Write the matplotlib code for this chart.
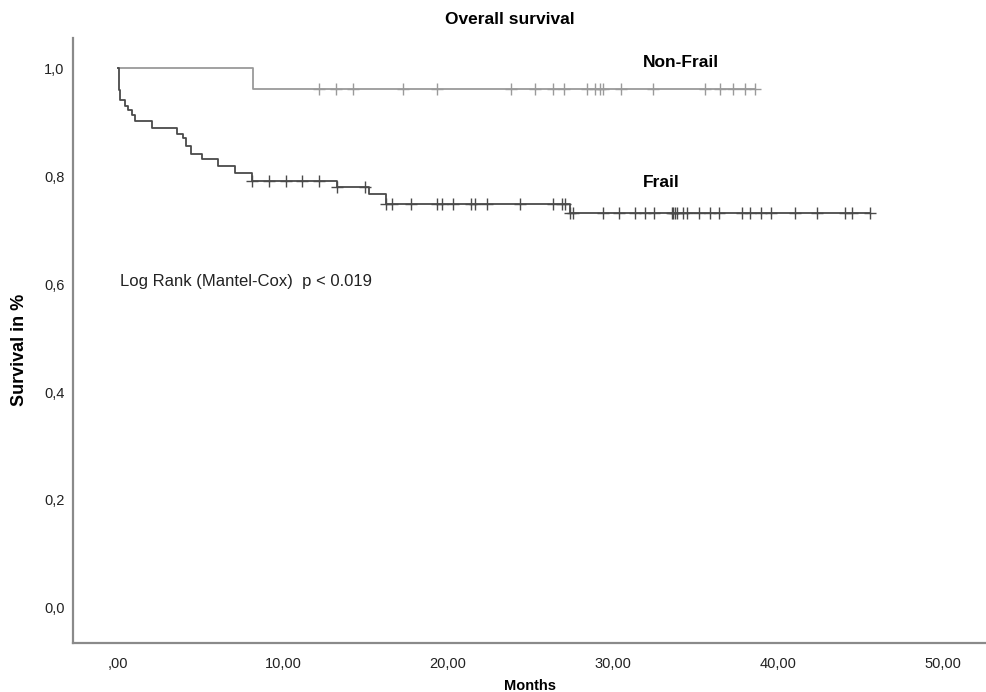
import numpy as np
import matplotlib
matplotlib.use("Agg")
import matplotlib.pyplot as plt

# ---- data ----
frail_event_times = [0.03, 0.08, 0.12, 0.42, 0.62, 0.83, 1.03, 2.08, 3.56, 3.96, 4.12, 4.42,
                     5.07, 6.08, 7.09, 8.10, 13.25, 15.23, 16.24, 27.39]
frail_surv = [0.978, 0.959, 0.941, 0.930, 0.922, 0.913, 0.902, 0.890, 0.879, 0.870, 0.856, 0.841,
              0.831, 0.819, 0.805, 0.791, 0.780, 0.767, 0.749, 0.731]
frail_censor = [8.1, 9.15, 10.16, 11.17, 12.18, 13.25, 14.97, 16.24, 16.6, 17.74, 19.35, 19.62,
                20.28, 21.37, 21.64, 22.35, 24.36, 26.38, 26.89, 27.09, 27.39, 27.55, 29.41,
                30.38, 31.33, 31.94, 32.48, 33.56, 33.66, 33.76, 33.86, 34.26, 34.46, 35.23,
                35.88, 36.44, 37.8, 38.3, 39.0, 39.56, 41.03, 42.38, 44.06, 44.47, 45.6]

nonfrail_event_times = [8.16]
nonfrail_surv = [0.961]
nonfrail_censor = [12.2, 13.21, 14.22, 17.29, 19.31, 23.8, 25.27, 26.38, 27.03, 28.4, 28.9,
                   29.2, 29.4, 30.5, 32.4, 35.6, 36.5, 37.3, 38.0, 38.6]

x_ticks = [0, 10, 20, 30, 40, 50]
x_ticklabels = [",00", "10,00", "20,00", "30,00", "40,00", "50,00"]
y_ticks = [0.0, 0.2, 0.4, 0.6, 0.8, 1.0]
y_ticklabels = ["0,0", "0,2", "0,4", "0,6", "0,8", "1,0"]

title = "Overall survival"
xlabel = "Months"
ylabel = "Survival in %"
annotation = "Log Rank (Mantel-Cox)  p < 0.019"

FONT = ["Liberation Sans", "DejaVu Sans"]


def km_curve(event_t, surv, censor_t):
    t = np.concatenate([[0.0], event_t, [max(censor_t)]])
    s = np.concatenate([[1.0], surv, [surv[-1]]])
    ct = np.asarray(censor_t)
    idx = np.searchsorted(np.asarray(event_t), ct, side="right")
    cs = np.concatenate([[1.0], surv])[idx]
    return t, s, ct, cs


fig = plt.figure(figsize=(9.87, 6.92), dpi=100)
ax = fig.add_axes([73 / 987, 49 / 692, 914 / 987, (643 - 38) / 692])

for ev, sv, ce, col in [(nonfrail_event_times, nonfrail_surv, nonfrail_censor, "#9a9a9a"),
                        (frail_event_times, frail_surv, frail_censor, "#4a4a4a")]:
    t, s, ct, cs = km_curve(ev, sv, ce)
    ax.step(t, s, where="post", color=col, lw=1.3)
    ax.plot(ct, cs, ls="none", marker="+", ms=9, mew=1.0, color=col)

ax.set_xlim(-2.73, 52.67)
ax.set_ylim(-0.065, 1.056)

for side in ["top", "right"]:
    ax.spines[side].set_visible(False)
for side in ["left", "bottom"]:
    ax.spines[side].set_color("#8a8a8a")
    ax.spines[side].set_linewidth(1.6)

ax.set_xticks(x_ticks)
ax.set_xticklabels(x_ticklabels, fontfamily=FONT, fontsize=10.5, color="#222222")
ax.set_yticks(y_ticks)
ax.set_yticklabels(y_ticklabels, fontfamily=FONT, fontsize=10.5, color="#222222")
ax.tick_params(axis="both", length=0)
ax.tick_params(axis="x", pad=10)
ax.tick_params(axis="y", pad=6)

ax.set_xlabel(xlabel, fontfamily=FONT, fontsize=10.5, fontweight="bold", labelpad=6)

fig.text(20 / 987, 1 - 350 / 692, ylabel, ha="center", va="center", rotation=90,
         fontfamily=FONT, fontsize=13, fontweight="bold")

fig.text(510 / 987, 1 - 20 / 692, title, ha="center", va="center",
         fontfamily=FONT, fontsize=12.5, fontweight="bold")

ax.text(31.8, 1.011, "Non-Frail", ha="left", va="center",
        fontfamily=FONT, fontsize=12.5, fontweight="bold")
ax.text(31.8, 0.789, "Frail", ha="left", va="center",
        fontfamily=FONT, fontsize=12.5, fontweight="bold")
ax.text(0.1, 0.604, annotation, ha="left", va="center",
        fontfamily=FONT, fontsize=12, color="#222222")

fig.savefig("out.png", dpi=100)
